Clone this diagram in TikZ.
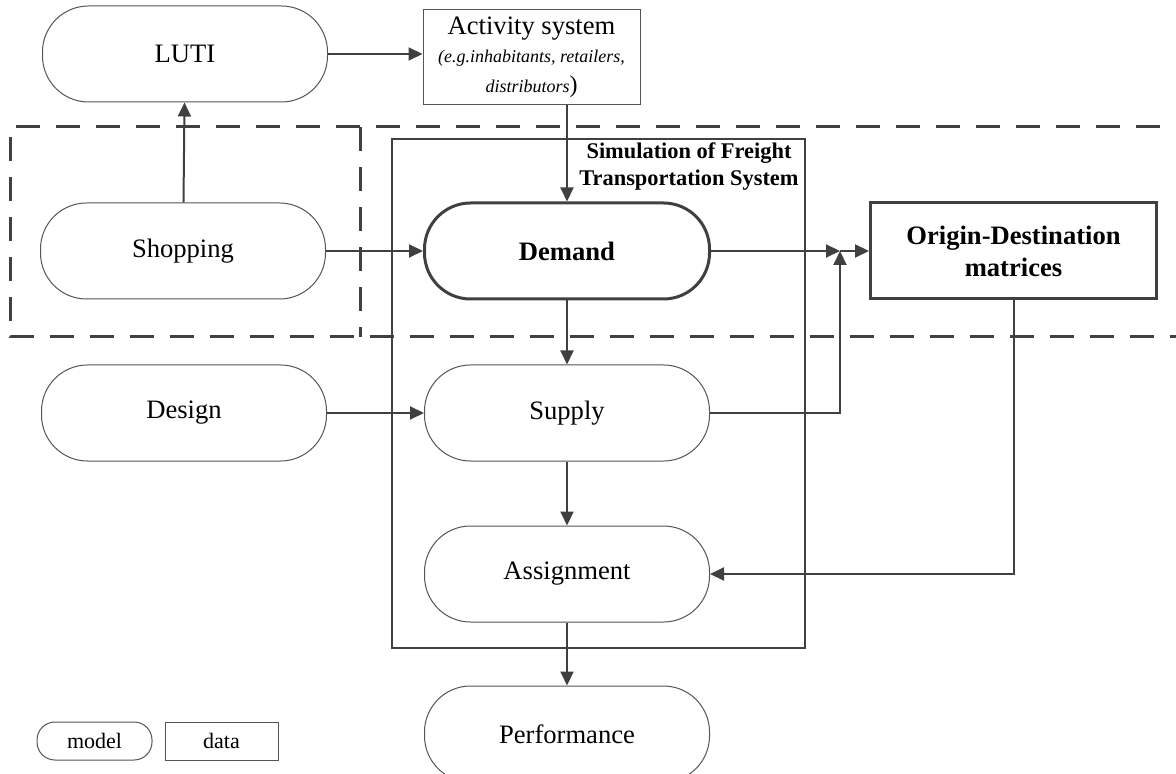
\documentclass[tikz,border=0pt]{standalone}
\usepackage{fontspec}
\setmainfont{Liberation Serif}
\usepackage{tikz}
\usetikzlibrary{arrows.meta,positioning,calc}
\definecolor{inkg}{HTML}{404040}
\definecolor{linec}{HTML}{555555}
\newcommand{\mainsz}{\fontsize{13.3}{16}\selectfont}
\tikzset{
  modelbox/.style={rectangle, rounded corners=23pt, draw=linec, fill=white, line width=0.5pt,
              align=center, inner sep=2pt, font=\mainsz, minimum width=142.5pt, minimum height=48pt},
  modelbold/.style={modelbox, draw=inkg, line width=1.5pt, font=\mainsz\bfseries},
  databox/.style={rectangle, draw=linec, fill=white, line width=0.5pt, align=center,
              inner sep=2pt, font=\mainsz},
  databold/.style={databox, draw=inkg, line width=1.5pt, font=\mainsz\bfseries,
              minimum width=143pt, minimum height=48pt},
  legmodel/.style={modelbox, rounded corners=9pt, minimum width=57.5pt, minimum height=19pt,
              font=\fontsize{11}{13}\selectfont},
  legdata/.style={databox, minimum width=56.5pt, minimum height=19pt, font=\fontsize{11}{13}\selectfont},
  simframe/.style={draw=inkg, line width=1pt},
  dashbox/.style={draw=inkg, line width=1.5pt, dash pattern=on 12pt off 8pt},
  arr/.style={-{Triangle[length=7pt,width=6.5pt]}, line width=1pt, draw=inkg},
}
\begin{document}
\begin{tikzpicture}[x=0.5pt, y=-0.5pt]
  \useasboundingbox (0,0) rectangle (1176,774);
  % frames
  \draw[dashbox] (1200,127) -- (10,127) -- (10,337) -- (1200,337);
  \draw[dashbox] (360,127) -- (360,337);
  \draw[simframe] (392,139) rectangle (805,648);
  \node[font=\fontsize{11.2}{13.5}\selectfont\bfseries, align=center] (simttl) at (689,167)
    {Simulation of Freight\\Transportation System};
  % models and data
  \node[modelbold] (dem) at (567,251) {Demand};
  \node[modelbox, below=32pt of dem] (sup) {Supply};
  \node[modelbox, below=32pt of sup] (asg) {Assignment};
  \node[modelbox, below=31.5pt of asg] (perf) {Performance};
  \node[modelbox, left=48.5pt of dem] (shop) {Shopping};
  \node[modelbox, left=48.5pt of sup] (dsg) {Design};
  \node[modelbox] (luti) at (185,54) {LUTI};
  \node[databold, right=79pt of dem] (od) {Origin-Destination\\matrices};
  \node[databox, minimum width=108.5pt, minimum height=47.5pt, inner sep=1pt] (act) at (531.5,57.5)
    {Activity system\\[-2pt]
     {\fontsize{9}{11}\selectfont\itshape (e.g.inhabitants, retailers,}\\[-1pt]
     {\fontsize{9}{11}\selectfont\itshape distributors}\fontsize{12}{14}\selectfont)};
  \coordinate (jn) at (840,251);
  % legend
  \node[legmodel] (lmodel) at (94.5,741) {model};
  \node[legdata] (ldata) at (221.5,741) {data};
  % flows
  \draw[arr] (luti.east) -- (luti.east -| act.west);
  \draw[arr] (shop) -- (luti);
  \draw[arr] (act.south -| dem.north) -- (dem.north);
  \draw[arr] (shop) -- (dem);
  \draw[arr] (dem) -- (jn);
  \draw[arr] (sup) -| (jn);
  \draw[arr] (jn) -- (od);
  \draw[arr] (dsg) -- (sup);
  \draw[arr] (dem) -- (sup);
  \draw[arr] (sup) -- (asg);
  \draw[arr] (od.south) |- (asg.east);
  \draw[arr] (asg) -- (perf);
\end{tikzpicture}
\end{document}
